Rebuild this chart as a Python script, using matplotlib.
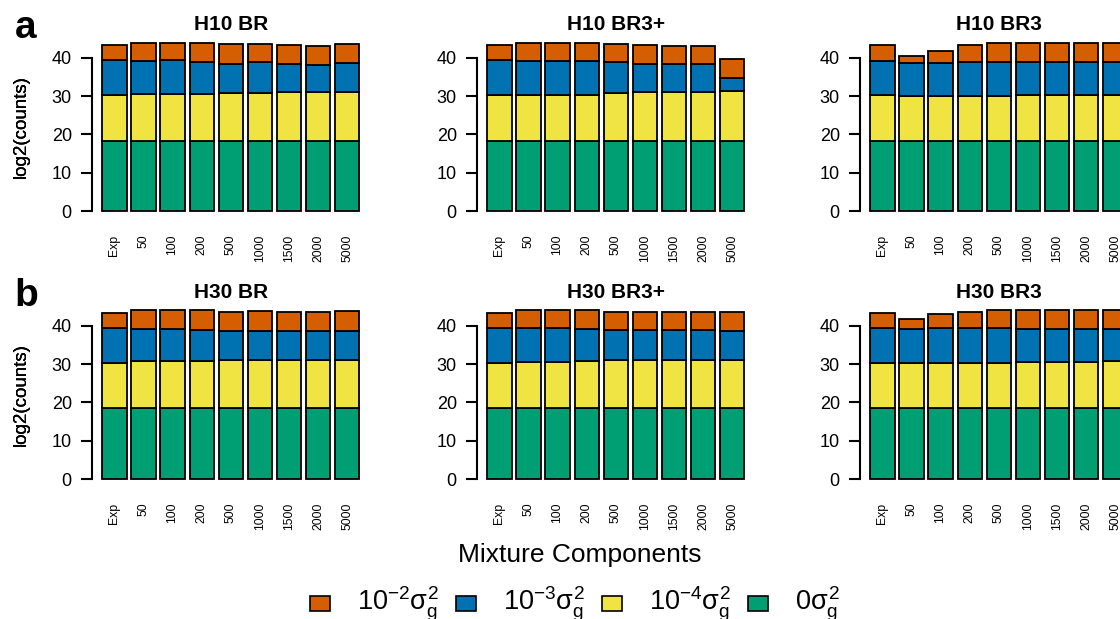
import numpy as np
import matplotlib
matplotlib.use('Agg')
import matplotlib.pyplot as plt
from matplotlib.patches import Rectangle

plt.rcParams['font.family'] = ['Liberation Sans', 'DejaVu Sans']
plt.rcParams['mathtext.fontset'] = 'custom'
plt.rcParams['mathtext.rm'] = 'Liberation Sans'
plt.rcParams['mathtext.it'] = 'Liberation Sans'
plt.rcParams['mathtext.sf'] = 'Liberation Sans'

# x categories (number of mixture components)
components = ['Exp', '50', '100', '200', '500', '1000', '1500', '2000', '5000']

# legend labels, top to bottom of the stack
series_labels = [r'$10^{-2}\sigma_g^2$', r'$10^{-3}\sigma_g^2$',
                 r'$10^{-4}\sigma_g^2$', r'$0\sigma_g^2$']
series_colors = ['#D55E00', '#0072B2', '#F0E442', '#009E73']

# cumulative top of each stacked segment, log2(counts)
h10_br_zero = [18.4, 18.4, 18.4, 18.4, 18.4, 18.4, 18.4, 18.4, 18.4]
h10_br_e4 = [30.3, 30.5, 30.5, 30.5, 30.9, 30.9, 31.0, 31.0, 31.0]
h10_br_e3 = [39.3, 39.1, 39.3, 39.0, 38.5, 38.9, 38.3, 38.1, 38.7]
h10_br_e2 = [43.4, 43.8, 43.8, 43.8, 43.6, 43.7, 43.3, 43.0, 43.6]

h10_br3p_zero = [18.4, 18.4, 18.4, 18.4, 18.4, 18.4, 18.4, 18.4, 18.4]
h10_br3p_e4 = [30.3, 30.3, 30.4, 30.4, 30.8, 31.0, 31.0, 31.1, 31.3]
h10_br3p_e3 = [39.3, 39.1, 39.1, 39.1, 39.0, 38.5, 38.4, 38.3, 34.8]
h10_br3p_e2 = [43.3, 43.8, 43.8, 43.8, 43.7, 43.4, 43.2, 43.0, 39.7]

h10_br3_zero = [18.4, 18.4, 18.4, 18.4, 18.4, 18.4, 18.4, 18.4, 18.4]
h10_br3_e4 = [30.3, 30.1, 30.1, 30.1, 30.1, 30.3, 30.3, 30.3, 30.4]
h10_br3_e3 = [39.2, 38.6, 38.6, 38.9, 39.0, 39.0, 39.0, 39.0, 39.0]
h10_br3_e2 = [43.4, 40.5, 41.8, 43.4, 43.8, 43.8, 43.8, 43.9, 43.8]

h30_br_zero = [18.6, 18.6, 18.6, 18.6, 18.6, 18.6, 18.6, 18.6, 18.6]
h30_br_e4 = [30.3, 30.7, 30.9, 30.9, 31.1, 31.1, 31.1, 31.1, 31.1]
h30_br_e3 = [39.3, 39.1, 39.1, 38.9, 38.6, 38.7, 38.6, 38.6, 38.7]
h30_br_e2 = [43.3, 44.0, 44.0, 44.0, 43.7, 43.8, 43.6, 43.6, 43.8]

h30_br3p_zero = [18.6, 18.6, 18.6, 18.6, 18.6, 18.6, 18.6, 18.6, 18.6]
h30_br3p_e4 = [30.3, 30.5, 30.6, 30.8, 31.1, 31.1, 31.1, 31.1, 31.1]
h30_br3p_e3 = [39.3, 39.3, 39.3, 39.1, 38.8, 38.8, 38.8, 38.8, 38.6]
h30_br3p_e2 = [43.4, 44.0, 44.0, 44.0, 43.7, 43.7, 43.7, 43.7, 43.6]

h30_br3_zero = [18.6, 18.6, 18.6, 18.6, 18.6, 18.6, 18.6, 18.6, 18.6]
h30_br3_e4 = [30.3, 30.3, 30.3, 30.3, 30.3, 30.5, 30.5, 30.6, 30.8]
h30_br3_e3 = [39.3, 39.1, 39.3, 39.3, 39.3, 39.1, 39.1, 39.1, 39.1]
h30_br3_e2 = [43.4, 41.8, 43.0, 43.6, 44.0, 44.0, 44.0, 44.0, 44.0]

panels = [
    ('H10 BR', [h10_br_zero, h10_br_e4, h10_br_e3, h10_br_e2]),
    ('H10 BR3+', [h10_br3p_zero, h10_br3p_e4, h10_br3p_e3, h10_br3p_e2]),
    ('H10 BR3', [h10_br3_zero, h10_br3_e4, h10_br3_e3, h10_br3_e2]),
    ('H30 BR', [h30_br_zero, h30_br_e4, h30_br_e3, h30_br_e2]),
    ('H30 BR3+', [h30_br3p_zero, h30_br3p_e4, h30_br3p_e3, h30_br3p_e2]),
    ('H30 BR3', [h30_br3_zero, h30_br3_e4, h30_br3_e3, h30_br3_e2]),
]

W, H = 1120, 619
fig = plt.figure(figsize=(W / 100, H / 100), dpi=100)


def fx(px):
    return px / W


def fy(py):
    return 1 - py / H


# R-style barplot geometry: width 1, space 0.2, 4% padding
x = 0.7 + 1.2 * np.arange(len(components))
xlim = (0.2 - 0.424, 10.8 + 0.424)
ylim = (-1.8, 45.8)
px_per_x = 24.25
px_per_y = 3.83
ax_w = (xlim[1] - xlim[0]) * px_per_x
ax_h = (ylim[1] - ylim[0]) * px_per_y

col_left = [92, 477, 860]
row_zero = [211, 479]

for k, (title, levels) in enumerate(panels):
    r, c = divmod(k, 3)
    top = row_zero[r] - ylim[1] * px_per_y
    ax = fig.add_axes([fx(col_left[c]), fy(top + ax_h), ax_w / W, ax_h / H])

    bottom = np.zeros(len(components))
    for lev, col in zip(levels, series_colors[::-1]):
        lev = np.array(lev)
        ax.bar(x, lev - bottom, bottom=bottom, width=1, color=col,
               edgecolor='black', linewidth=1.3)
        bottom = lev

    ax.set_xlim(*xlim)
    ax.set_ylim(*ylim)
    for s in ['top', 'right', 'bottom']:
        ax.spines[s].set_visible(False)
    ax.spines['left'].set_bounds(0, 40)
    ax.spines['left'].set_linewidth(1.5)
    ax.set_yticks([0, 10, 20, 30, 40])
    ax.tick_params(axis='y', length=8, width=1.5, pad=6.5, labelsize=13)
    ax.set_xticks(x)
    ax.set_xticklabels(components, rotation=90, fontsize=8.8)
    ax.tick_params(axis='x', length=0, pad=12)
    ax.set_title(title, fontsize=15, fontweight='bold', pad=4)
    ax.text(-(col_left[c] - 21) / ax_w, 0.5, 'log2(counts)', rotation=90,
            ha='center', va='center', fontsize=13.5, transform=ax.transAxes)

fig.text(fx(26), fy(38), 'a', fontsize=28, fontweight='bold',
         ha='center', va='baseline')
fig.text(fx(26), fy(306), 'b', fontsize=28, fontweight='bold',
         ha='center', va='baseline')

fig.text(fx(580), fy(562), 'Mixture Components', fontsize=19,
         ha='center', va='baseline')

# horizontal legend along the bottom
for i, (lab, col) in enumerate(zip(series_labels, series_colors)):
    left = 310 + 146 * i
    fig.patches.append(Rectangle((fx(left), fy(611)), 20 / W, 15 / H,
                                 transform=fig.transFigure, facecolor=col,
                                 edgecolor='black', linewidth=1.2))
    fig.text(fx(left + 47), fy(611), lab, fontsize=19.5,
             ha='left', va='baseline')

plt.savefig('out.png', dpi=100)
plt.close()
